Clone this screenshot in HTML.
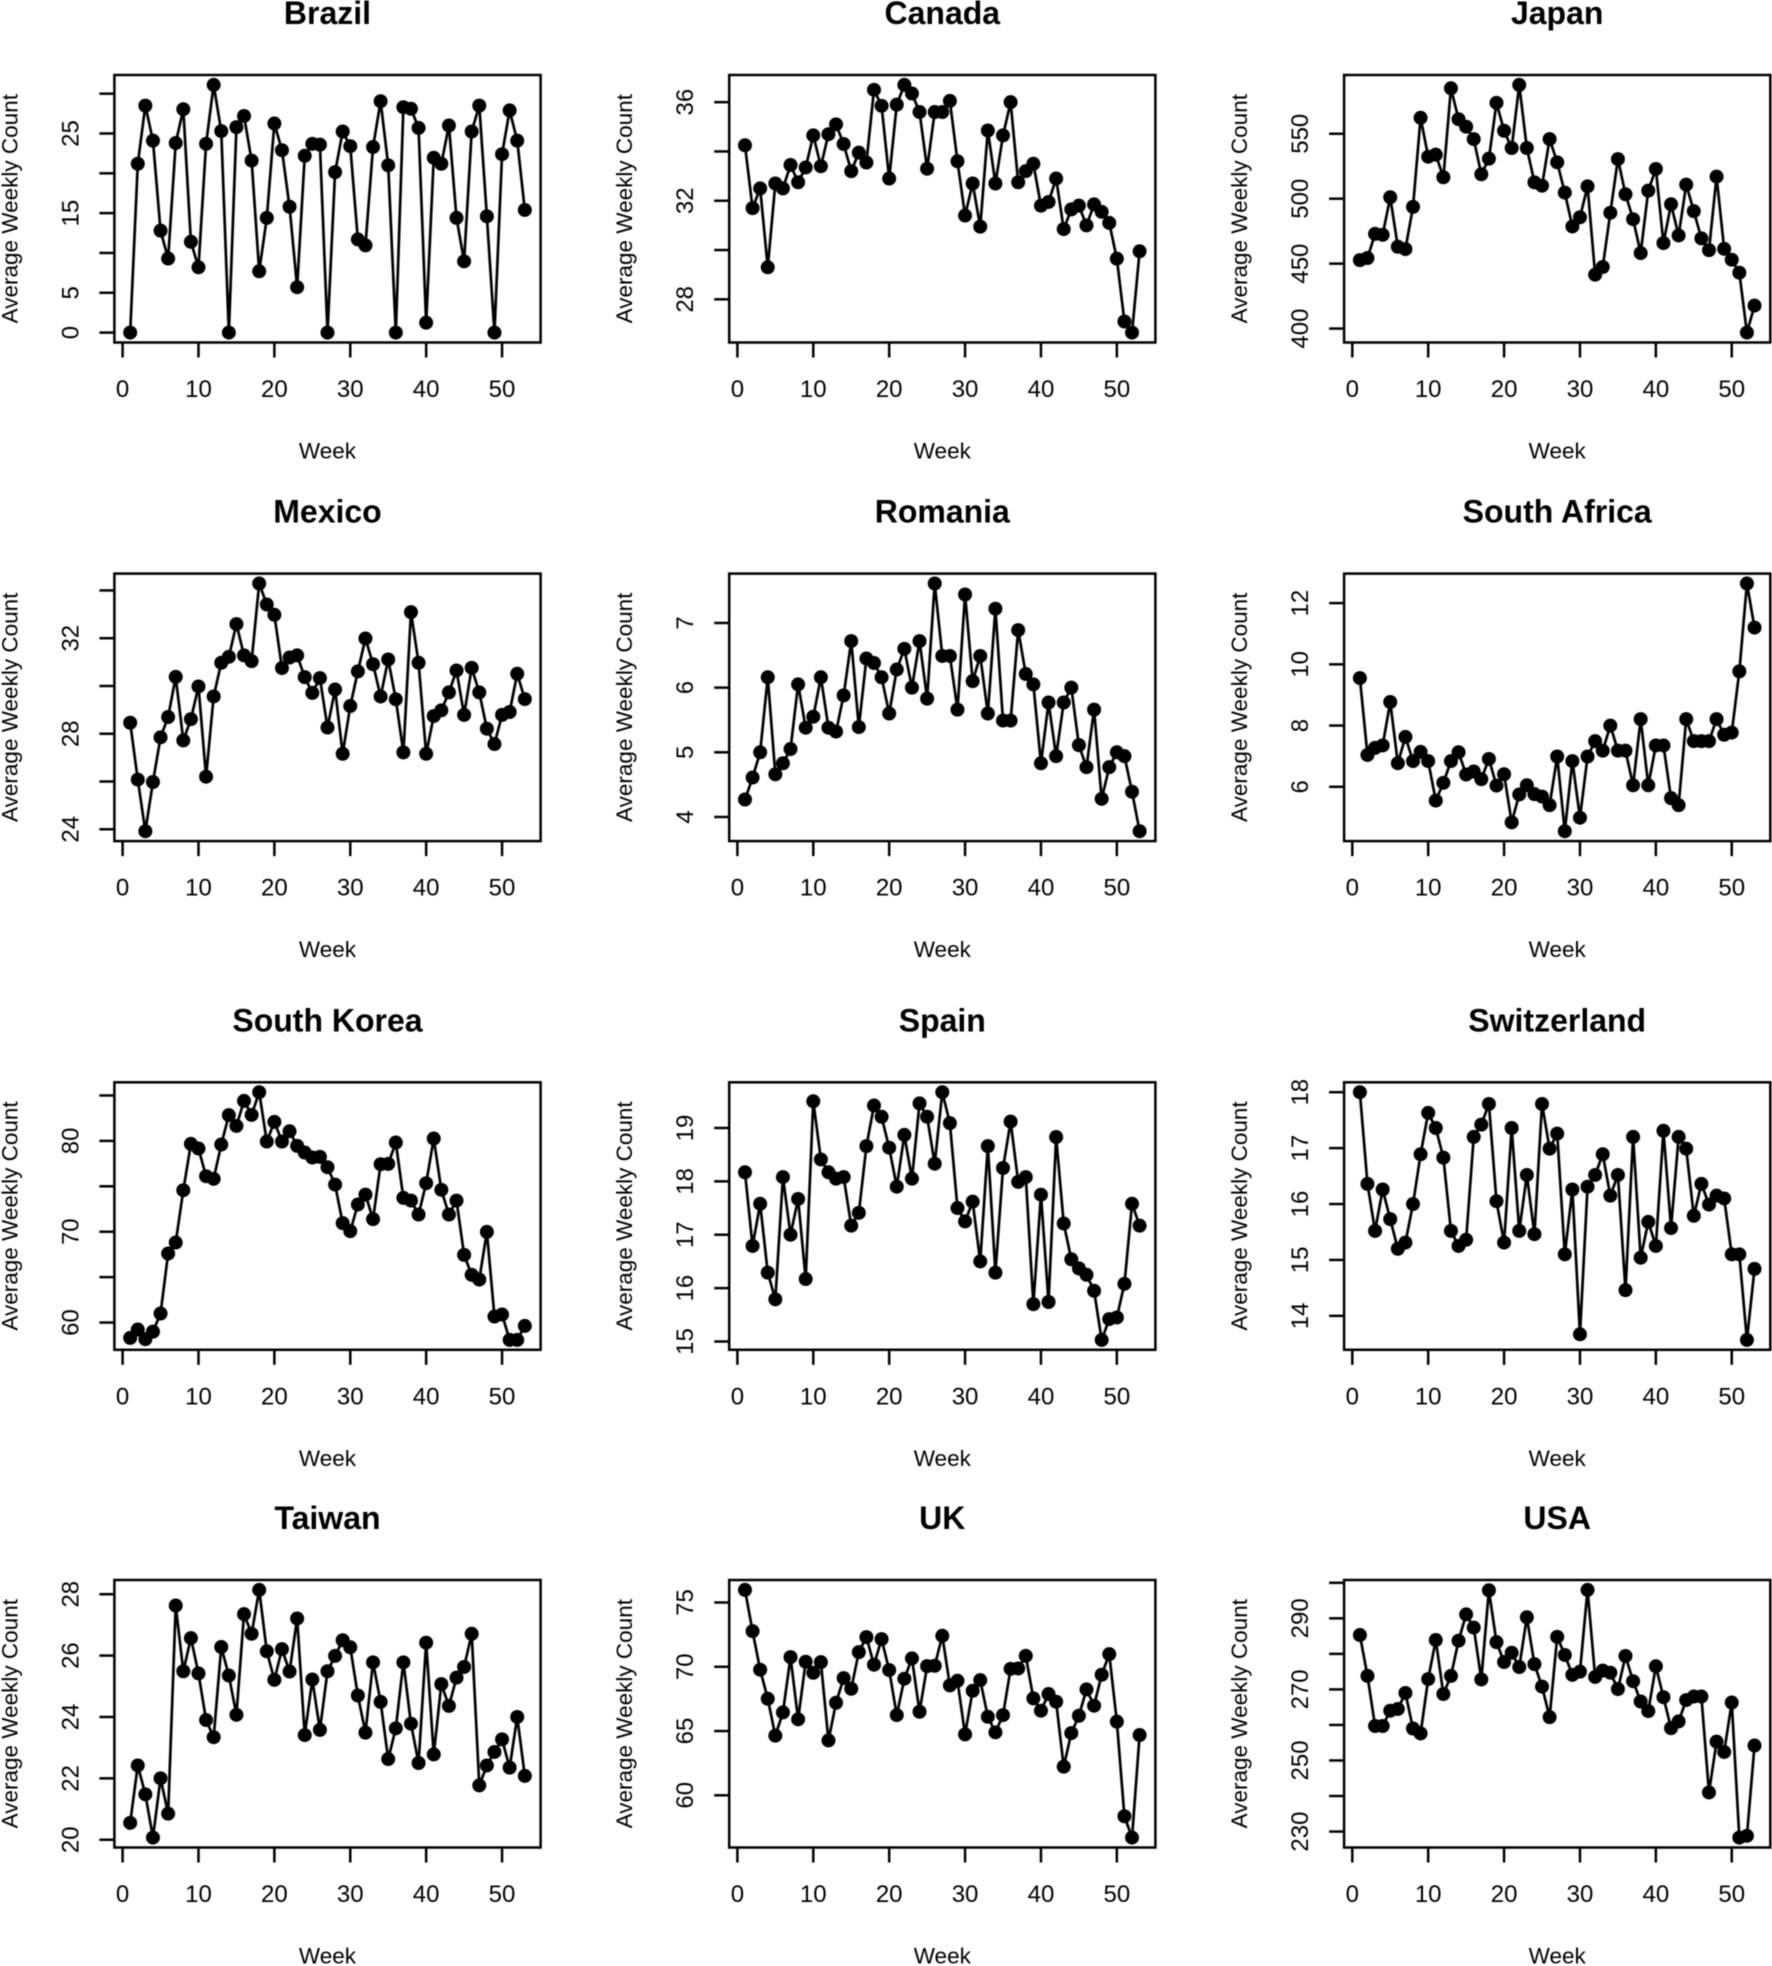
<!DOCTYPE html>
<html lang="en">
<head>
<meta charset="utf-8">
<title>Average Weekly Count by Country</title>
<style>
  html, body { margin: 0; padding: 0; background: #fff; }
  svg { display: block; filter: blur(0.4px); }
  text { font-family: "Liberation Sans", Arial, sans-serif; fill: #000; }
  .title { font-size: 32px; font-weight: bold; text-anchor: middle; }
  .axis-title { font-size: 22.5px; text-anchor: middle; }
  .tick-label { font-size: 24px; text-anchor: middle; }
  .box { fill: none; stroke: #000; stroke-width: 2.5; }
</style>
</head>
<body>
<svg id="figure" width="1772" height="1966" viewBox="0 0 1772 1966" xmlns="http://www.w3.org/2000/svg">
  <rect width="1772" height="1966" fill="#fff"/>

  <g id="brazil" transform="translate(114.4 75)">
    <text class="title" x="213.1" y="-51">Brazil</text>
    <text class="axis-title" x="213.1" y="383.5">Week</text>
    <text class="axis-title" transform="translate(-97 133.7) rotate(-90)">Average Weekly Count</text>
    <rect class="box" width="426.2" height="267.5"/>
  </g>
  <g id="canada" transform="translate(729.2 75)">
    <text class="title" x="213.1" y="-51">Canada</text>
    <text class="axis-title" x="213.1" y="383.5">Week</text>
    <text class="axis-title" transform="translate(-97 133.7) rotate(-90)">Average Weekly Count</text>
    <rect class="box" width="426.2" height="267.5"/>
  </g>
  <g id="japan" transform="translate(1344.1 75)">
    <text class="title" x="213.1" y="-51">Japan</text>
    <text class="axis-title" x="213.1" y="383.5">Week</text>
    <text class="axis-title" transform="translate(-97 133.7) rotate(-90)">Average Weekly Count</text>
    <rect class="box" width="426.2" height="267.5"/>
  </g>

  <g id="mexico" transform="translate(114.4 573.6)">
    <text class="title" x="213.1" y="-51">Mexico</text>
    <text class="axis-title" x="213.1" y="383.5">Week</text>
    <text class="axis-title" transform="translate(-97 133.7) rotate(-90)">Average Weekly Count</text>
    <rect class="box" width="426.2" height="267.5"/>
  </g>
  <g id="romania" transform="translate(729.2 573.6)">
    <text class="title" x="213.1" y="-51">Romania</text>
    <text class="axis-title" x="213.1" y="383.5">Week</text>
    <text class="axis-title" transform="translate(-97 133.7) rotate(-90)">Average Weekly Count</text>
    <rect class="box" width="426.2" height="267.5"/>
  </g>
  <g id="southAfrica" transform="translate(1344.1 573.6)">
    <text class="title" x="213.1" y="-51">South Africa</text>
    <text class="axis-title" x="213.1" y="383.5">Week</text>
    <text class="axis-title" transform="translate(-97 133.7) rotate(-90)">Average Weekly Count</text>
    <rect class="box" width="426.2" height="267.5"/>
  </g>

  <g id="southKorea" transform="translate(114.4 1082.3)">
    <text class="title" x="213.1" y="-51">South Korea</text>
    <text class="axis-title" x="213.1" y="383.5">Week</text>
    <text class="axis-title" transform="translate(-97 133.7) rotate(-90)">Average Weekly Count</text>
    <rect class="box" width="426.2" height="267.5"/>
  </g>
  <g id="spain" transform="translate(729.2 1082.3)">
    <text class="title" x="213.1" y="-51">Spain</text>
    <text class="axis-title" x="213.1" y="383.5">Week</text>
    <text class="axis-title" transform="translate(-97 133.7) rotate(-90)">Average Weekly Count</text>
    <rect class="box" width="426.2" height="267.5"/>
  </g>
  <g id="switzerland" transform="translate(1344.1 1082.3)">
    <text class="title" x="213.1" y="-51">Switzerland</text>
    <text class="axis-title" x="213.1" y="383.5">Week</text>
    <text class="axis-title" transform="translate(-97 133.7) rotate(-90)">Average Weekly Count</text>
    <rect class="box" width="426.2" height="267.5"/>
  </g>

  <g id="taiwan" transform="translate(114.4 1580)">
    <text class="title" x="213.1" y="-51">Taiwan</text>
    <text class="axis-title" x="213.1" y="383.5">Week</text>
    <text class="axis-title" transform="translate(-97 133.7) rotate(-90)">Average Weekly Count</text>
    <rect class="box" width="426.2" height="267.5"/>
  </g>
  <g id="uk" transform="translate(729.2 1580)">
    <text class="title" x="213.1" y="-51">UK</text>
    <text class="axis-title" x="213.1" y="383.5">Week</text>
    <text class="axis-title" transform="translate(-97 133.7) rotate(-90)">Average Weekly Count</text>
    <rect class="box" width="426.2" height="267.5"/>
  </g>
  <g id="usa" transform="translate(1344.1 1580)">
    <text class="title" x="213.1" y="-51">USA</text>
    <text class="axis-title" x="213.1" y="383.5">Week</text>
    <text class="axis-title" transform="translate(-97 133.7) rotate(-90)">Average Weekly Count</text>
    <rect class="box" width="426.2" height="267.5"/>
  </g>
</svg>

<script>
const weeks = [1,2,3,4,5,6,7,8,9,10,11,12,13,14,15,16,17,18,19,20,21,22,23,24,25,26,27,28,29,30,31,32,33,34,35,36,37,38,39,40,41,42,43,44,45,46,47,48,49,50,51,52,53];
const xTicks = [0,10,20,30,40,50];

const brazilValues = [0,21.2,28.5,24.1,12.8,9.3,23.8,28.05,11.4,8.2,23.7,31.1,25.3,0,25.8,27.2,21.6,7.7,14.4,26.25,22.9,15.8,5.7,22.2,23.7,23.6,0,20.15,25.25,23.4,11.7,10.95,23.3,29.05,21,0,28.3,28.1,25.7,1.25,21.95,21.2,26,14.4,8.95,25.25,28.5,14.6,0,22.4,27.9,24.1,15.4];
const brazilTicks = [0,5,10,15,20,25,30];
const brazilLabels = [0,5,15,25];

const canadaValues = [34.25,31.7,32.5,29.3,32.7,32.5,33.45,32.75,33.35,34.65,33.4,34.7,35.1,34.3,33.2,33.95,33.55,36.5,35.85,32.9,35.9,36.7,36.35,35.6,33.3,35.6,35.6,36.05,33.6,31.4,32.7,30.95,34.85,32.7,34.65,36,32.75,33.2,33.5,31.8,31.95,32.9,30.85,31.65,31.8,31,31.85,31.55,31.1,29.65,27.1,26.65,29.95];
const canadaTicks = [28,30,32,34,36];
const canadaLabels = [28,32,36];

const japanValues = [452.7,454.3,472.9,472.2,501.1,463,461.2,493.7,562.3,532.3,533.9,516.5,585,561.2,555.4,545.9,518.8,530.8,573.8,552.3,539,587.6,539,512.6,510,545.9,528,504.7,478.6,485.7,509.5,441.5,447.4,489.1,530.5,503.4,484.2,458.1,506.2,522.9,465.8,495.7,471.7,510.8,490.4,469.4,460.4,517,461.4,453,443,396.9,417.7];
const japanTicks = [400,450,500,550];
const japanLabels = [400,450,500,550];

const mexicoValues = [28.46,26.08,23.92,25.98,27.85,28.7,30.38,27.72,28.61,29.98,26.2,29.56,30.97,31.22,32.59,31.28,31.04,34.29,33.41,32.98,30.75,31.19,31.28,30.37,29.71,30.33,28.26,29.85,27.16,29.16,30.61,31.99,30.91,29.56,31.11,29.44,27.22,33.09,30.97,27.16,28.74,28.98,29.73,30.65,28.79,30.76,29.73,28.21,27.57,28.79,28.91,30.51,29.45];
const mexicoTicks = [24,26,28,30,32,34];
const mexicoLabels = [24,28,32];

const romaniaValues = [4.27,4.61,5,6.16,4.66,4.83,5.05,6.05,5.38,5.55,6.16,5.38,5.32,5.88,6.72,5.39,6.45,6.38,6.16,5.6,6.28,6.6,6,6.72,5.83,7.61,6.49,6.49,5.66,7.44,6.1,6.49,5.6,7.22,5.49,5.49,6.89,6.21,6.05,4.83,5.77,4.94,5.77,6,5.11,4.77,5.66,4.28,4.77,5,4.94,4.39,3.78];
const romaniaTicks = [4,5,6,7];
const romaniaLabels = [4,5,6,7];

const southAfricaValues = [9.55,7.04,7.27,7.35,8.77,6.77,7.63,6.84,7.14,6.84,5.55,6.13,6.84,7.13,6.4,6.5,6.25,6.91,6.04,6.41,4.84,5.75,6.05,5.76,5.68,5.4,6.99,4.55,6.84,4.99,6.99,7.49,7.18,8,7.18,7.18,6.05,8.21,6.05,7.35,7.35,5.63,5.4,8.21,7.49,7.49,7.49,8.21,7.7,7.77,9.77,12.64,11.2];
const southAfricaTicks = [6,8,10,12];
const southAfricaLabels = [6,8,10,12];

const southKoreaValues = [58.31,59.23,58.17,59,60.99,67.6,68.81,74.57,79.67,79.16,76.11,75.82,79.6,82.83,81.65,84.4,82.86,85.36,79.93,82.09,79.93,81.06,79.45,78.72,78.17,78.24,77.1,75.19,70.94,70.06,72.99,74.09,71.38,77.43,77.47,79.82,73.72,73.43,71.89,75.34,80.26,74.61,71.89,73.43,67.45,65.25,64.73,69.98,60.66,60.88,58.09,58.09,59.63];
const southKoreaTicks = [60,65,70,75,80,85];
const southKoreaLabels = [60,70,80];

const spainValues = [18.17,16.79,17.58,16.29,15.79,18.08,17,17.67,16.17,19.5,18.41,18.17,18.05,18.08,17.17,17.41,18.66,19.42,19.21,18.63,17.9,18.87,18.05,19.46,19.21,18.33,19.67,19.09,17.5,17.25,17.62,16.5,18.66,16.29,18.25,19.12,17.99,18.08,15.7,17.75,15.74,18.83,17.21,16.54,16.37,16.25,15.95,15.03,15.42,15.45,16.08,17.58,17.17];
const spainTicks = [15,16,17,18,19];
const spainLabels = [15,16,17,18,19];

const switzerlandValues = [18,16.36,15.52,16.26,15.73,15.2,15.31,16,16.89,17.63,17.36,16.83,15.52,15.25,15.36,17.2,17.42,17.79,16.05,15.31,17.36,15.52,16.52,15.46,17.79,16.99,17.26,15.1,16.26,13.67,16.31,16.52,16.89,16.15,16.52,14.46,17.2,15.04,15.68,15.25,17.31,15.57,17.2,16.99,15.79,16.36,15.99,16.15,16.1,15.1,15.1,13.57,14.84];
const switzerlandTicks = [14,15,16,17,18];
const switzerlandLabels = [14,15,16,17,18];

const taiwanValues = [20.55,22.42,21.48,20.07,22,20.85,27.63,25.49,26.57,25.42,23.9,23.34,26.28,25.35,24.07,27.35,26.71,28.14,26.14,25.21,26.21,25.48,27.21,23.41,25.22,23.58,25.49,25.99,26.5,26.27,24.7,23.49,25.78,24.49,22.63,23.63,25.78,23.78,22.5,26.42,22.78,25.07,24.36,25.28,25.63,26.71,21.77,22.42,22.86,23.27,22.35,24,22.08];
const taiwanTicks = [20,22,24,26,28];
const taiwanLabels = [20,22,24,26,28];

const ukValues = [75.98,72.77,69.77,67.51,64.64,66.45,70.75,65.91,70.39,69.53,70.36,64.27,67.2,69.12,68.29,71.14,72.31,70.16,72.15,69.74,66.24,69.07,70.65,66.5,70.05,70.08,72.41,68.55,68.91,64.74,68.13,68.96,66.11,64.9,66.24,69.84,69.87,70.85,67.54,66.58,67.88,67.28,62.23,64.84,66.19,68.24,66.97,69.38,70.98,65.73,58.37,56.71,64.69];
const ukTicks = [60,65,70,75];
const ukLabels = [60,65,70,75];

const usaValues = [285.3,273.8,259.7,259.7,264,264.5,269,259,257.6,272.9,283.9,268.7,273.8,283.7,291.1,287.4,272.8,297.9,283.3,277.7,280.3,276.3,290.3,277.1,270.8,262.2,284.8,279.7,274.1,275,298,273.5,275.3,274.7,270.1,279.4,272.3,266.6,263.9,276.5,267.8,259.1,261,267,268,268,241,255.3,252.4,266.3,228.3,228.8,254.2];
const usaTicks = [230,240,250,260,270,280,290,300];
const usaLabels = [230,250,270,290];

const SVG_NS = 'http://www.w3.org/2000/svg';
const PLOT_W = 426.2;
const PLOT_H = 267.5;
const TICK_LEN = 15;
const EXPAND = 0.04;

function makeXScale(domain) {
  const lo = Math.min.apply(null, domain);
  const hi = Math.max.apply(null, domain);
  const pad = (hi - lo) * EXPAND;
  return function (v) { return (v - (lo - pad)) / ((hi + pad) - (lo - pad)) * PLOT_W; };
}

function makeYScale(domain) {
  const lo = Math.min.apply(null, domain);
  const hi = Math.max.apply(null, domain);
  const pad = (hi - lo) * EXPAND;
  return function (v) { return PLOT_H - (v - (lo - pad)) / ((hi + pad) - (lo - pad)) * PLOT_H; };
}

function svgEl(tag, attrs) {
  const el = document.createElementNS(SVG_NS, tag);
  Object.keys(attrs).forEach(function (k) { el.setAttribute(k, attrs[k]); });
  return el;
}

function drawPanel(panelId, prefix, values, yTicks, yLabels) {
  const panel = document.getElementById(panelId);
  const x = makeXScale(weeks);
  const y = makeYScale(values);
  const tickStroke = { stroke: '#000', 'stroke-width': 2.5 };

  xTicks.forEach(function (t) {
    const tick = svgEl('line', Object.assign({ x1: x(t), x2: x(t), y1: PLOT_H, y2: PLOT_H + TICK_LEN }, tickStroke));
    
    
    panel.appendChild(tick);

    const label = svgEl('text', { class: 'tick-label', x: x(t), y: PLOT_H + 54.5 });
    
    
    label.textContent = String(t);
    panel.appendChild(label);
  });

  yTicks.forEach(function (t) {
    const tick = svgEl('line', Object.assign({ x1: -TICK_LEN, x2: 0, y1: y(t), y2: y(t) }, tickStroke));
    
    
    panel.appendChild(tick);
  });

  yLabels.forEach(function (t) {
    const label = svgEl('text', { class: 'tick-label', transform: 'translate(-36 ' + y(t) + ') rotate(-90)' });
    
    
    label.textContent = String(t);
    panel.appendChild(label);
  });

  const pts = values.map(function (v, i) { return x(weeks[i]) + ',' + y(v); }).join(' ');
  const line = svgEl('polyline', { points: pts, fill: 'none', stroke: '#000', 'stroke-width': 2.7, 'stroke-linejoin': 'round' });
  
  
  panel.appendChild(line);

  values.forEach(function (v, i) {
    const dot = svgEl('circle', { cx: x(weeks[i]), cy: y(v), r: 7, fill: '#000' });
    
    
    panel.appendChild(dot);
  });
}

drawPanel('brazil', 'brazil', brazilValues, brazilTicks, brazilLabels);
drawPanel('canada', 'canada', canadaValues, canadaTicks, canadaLabels);
drawPanel('japan', 'japan', japanValues, japanTicks, japanLabels);
drawPanel('mexico', 'mexico', mexicoValues, mexicoTicks, mexicoLabels);
drawPanel('romania', 'romania', romaniaValues, romaniaTicks, romaniaLabels);
drawPanel('southAfrica', 'south-africa', southAfricaValues, southAfricaTicks, southAfricaLabels);
drawPanel('southKorea', 'south-korea', southKoreaValues, southKoreaTicks, southKoreaLabels);
drawPanel('spain', 'spain', spainValues, spainTicks, spainLabels);
drawPanel('switzerland', 'switzerland', switzerlandValues, switzerlandTicks, switzerlandLabels);
drawPanel('taiwan', 'taiwan', taiwanValues, taiwanTicks, taiwanLabels);
drawPanel('uk', 'uk', ukValues, ukTicks, ukLabels);
drawPanel('usa', 'usa', usaValues, usaTicks, usaLabels);
</script>
</body>
</html>
